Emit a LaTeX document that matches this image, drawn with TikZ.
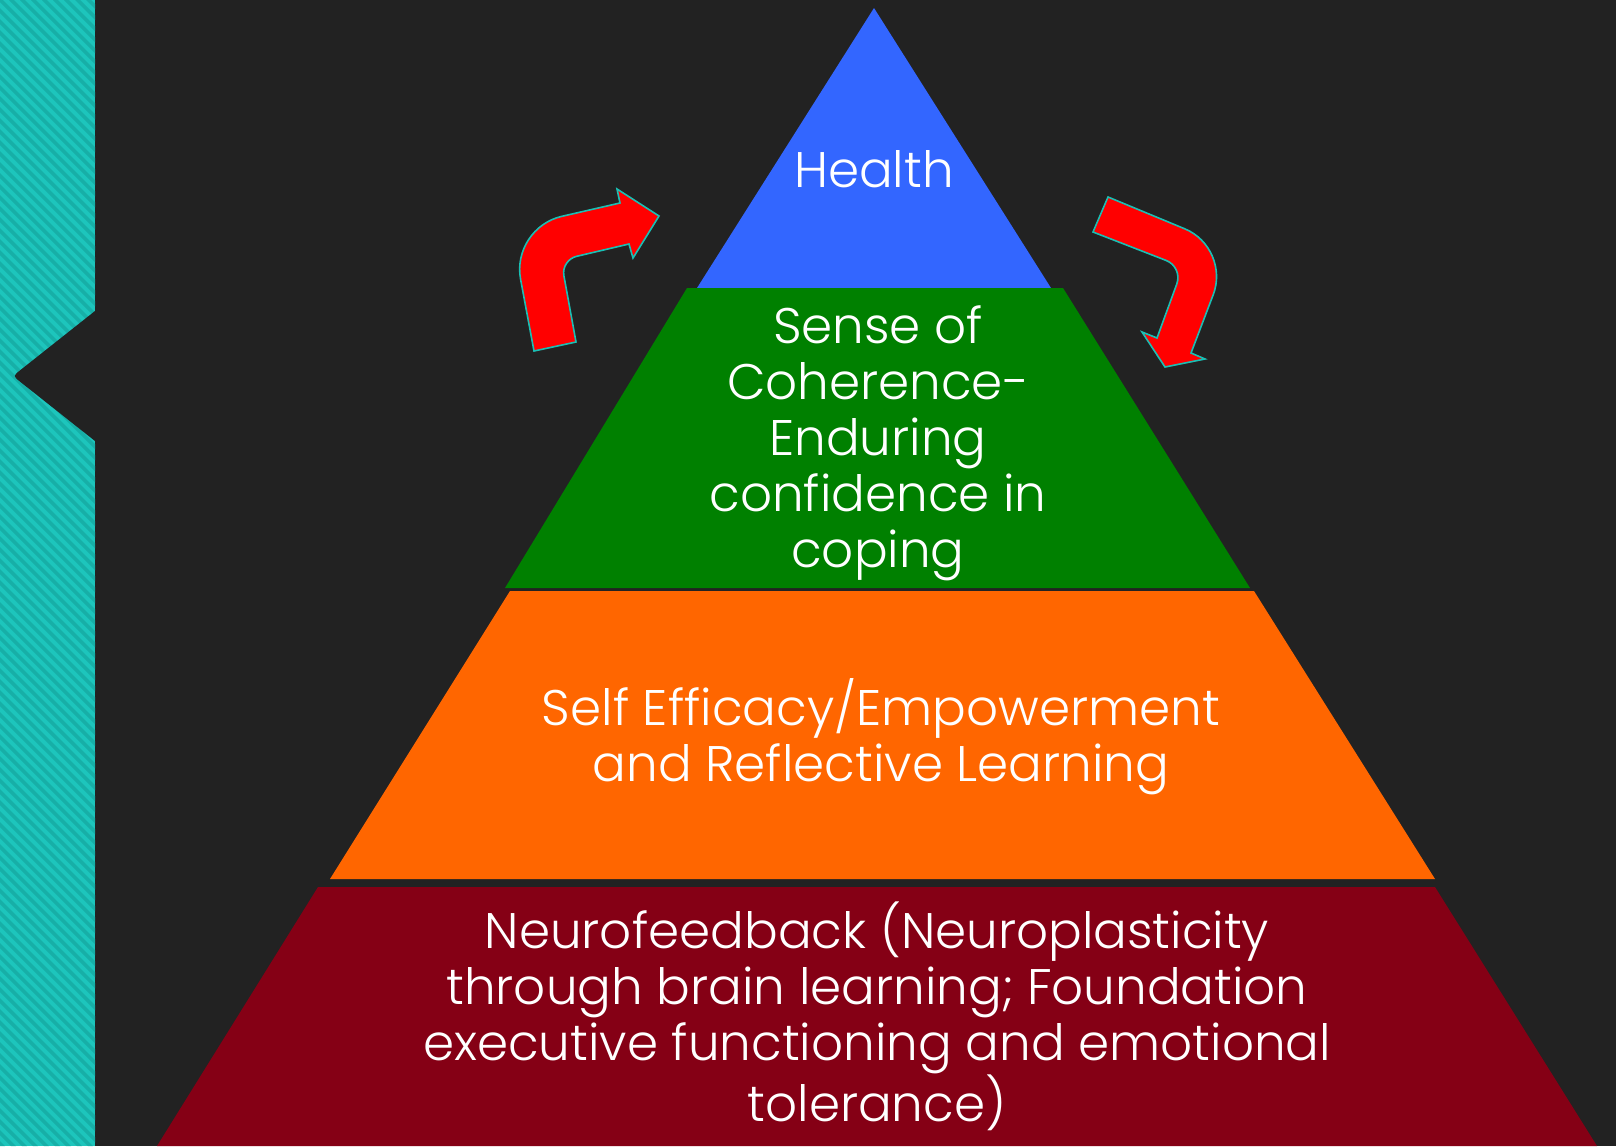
\documentclass[tikz,border=0pt]{standalone}
\usepackage{fontspec}
\setmainfont{Poppins Light}
\definecolor{slide}{HTML}{222222}
\definecolor{tealband}{HTML}{1DC5BC}
\definecolor{tealstripe}{HTML}{17AFA7}
\definecolor{tierblue}{HTML}{3366FF}
\definecolor{tiergreen}{HTML}{008000}
\definecolor{tierorange}{HTML}{FF6600}
\definecolor{tierred}{HTML}{850015}
\definecolor{arrowred}{HTML}{FF0000}
\definecolor{arrowedge}{HTML}{1ABFB4}
\begin{document}
\begin{tikzpicture}[x=1pt,y=-1pt,
  tierlabel/.style={text=white, align=center, inner sep=0pt,
    font=\fontsize{50}{56}\selectfont},
  turnarrow/.style={fill=arrowred, draw=arrowedge, line width=1.6pt, line join=miter}]

% slide background
\fill[slide] (0,0) rectangle (1616,1146);
\useasboundingbox (0,0) rectangle (1616,1146);

% striped band on the left edge
\begin{scope}
  \clip (0,0) rectangle (95,1146);
  \fill[tealband] (0,0) rectangle (95,1146);
  \foreach \k in {0,...,114} {
    \fill[tealstripe] ({-1146+\k*11},0) -- ++(5,0) -- ++(1146,1146) -- ++(-5,0) -- cycle;
  }
\end{scope}
% notch cut into the band
\fill[slide] (100,311) -- (95,311) -- (20,370.4)
  .. controls (13,376) .. (20,381.6) -- (95,441) -- (100,441) -- cycle;

% pyramid tiers
\fill[tierblue]   (874,8) -- (1051,288) -- (697,288) -- cycle;
\fill[tiergreen]  (687,288) -- (1063,288) -- (1250,588) -- (505,588) -- cycle;
\fill[tierorange] (510,591) -- (1254,591) -- (1435,879) -- (330,879) -- cycle;
\fill[tierred]    (318,887) -- (1435,887) -- (1597,1146) -- (157,1146) -- cycle;

% tier labels
\node[tierlabel, anchor=base] (health) at (874,187) {Health};
\node[tierlabel] (coherence) at (878,443) {Sense of\\Coherence-\\Enduring\\confidence in\\coping};
\node[tierlabel] (efficacy) at (881,737) {Self Efficacy/Empowerment\\and Reflective Learning};
\node[tierlabel] (neuro) at (877,1016) {Neurofeedback (Neuroplasticity\\through brain learning; Foundation\\executive functioning and emotional\\tolerance)};

% bent arrow rising on the left
\draw[turnarrow] (534,351) [rounded corners=52pt] -- (511,228) [sharp corners] -- (620,203)
  -- (617,189) -- (659,216) -- (633,258) -- (629,244)
  [rounded corners=16pt] -- (561,260) [sharp corners] -- (576,342) -- cycle;

% bent arrow descending on the right
\draw[turnarrow] (1108,197) [rounded corners=50pt] -- (1231,248) [sharp corners] -- (1191,353)
  -- (1205,359) -- (1165,367) -- (1142,332) -- (1157,338)
  [rounded corners=18pt] -- (1183,267) [sharp corners] -- (1093,232) -- cycle;
\end{tikzpicture}
\end{document}
